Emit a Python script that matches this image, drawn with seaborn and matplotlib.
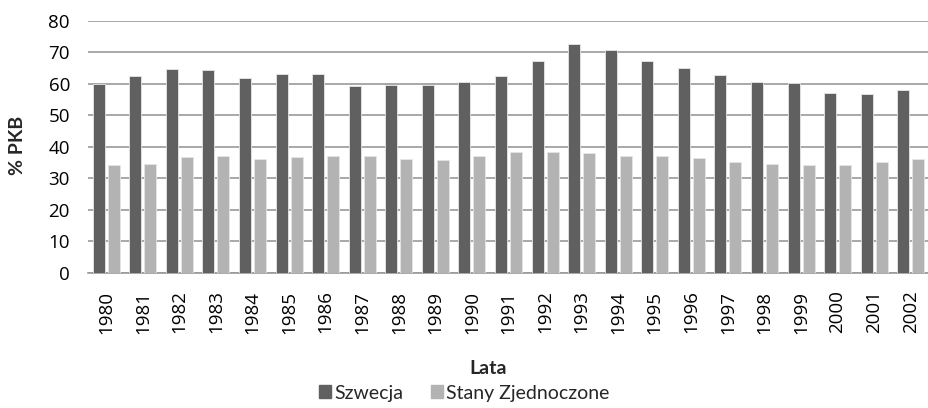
import matplotlib
matplotlib.use("Agg")
import matplotlib.pyplot as plt
import seaborn as sns
import pandas as pd

# wydatki publiczne jako % PKB
years = [str(y) for y in range(1980, 2003)]
szwecja = [60.0, 62.4, 64.7, 64.3, 61.9, 63.2, 63.2, 59.3, 59.8, 59.7, 60.5, 62.5,
           67.4, 72.8, 70.8, 67.4, 65.1, 62.8, 60.5, 60.2, 57.1, 56.8, 58.1]
usa = [34.2, 34.5, 36.8, 37.0, 36.0, 36.8, 37.2, 36.9, 36.0, 35.9, 37.0, 38.4,
       38.4, 37.9, 37.0, 36.9, 36.4, 35.2, 34.5, 34.2, 34.1, 35.1, 36.2]
series_names = ["Szwecja", "Stany Zjednoczone"]
colors = ["#606060", "#b3b3b3"]

df = pd.DataFrame({
    "rok": years * 2,
    "wartosc": szwecja + usa,
    "kraj": [series_names[0]] * len(years) + [series_names[1]] * len(years),
})

sns.set_style("white")
plt.rcParams["font.family"] = ["Open Sans", "DejaVu Sans"]
narrow = ["Lato", "DejaVu Sans"]

fig = plt.figure(figsize=(9.29, 4.08), dpi=100)
ax = fig.add_axes([88 / 929, 1 - 272.5 / 408, (929 - 88) / 929, 251.5 / 408])

sns.barplot(data=df, x="rok", y="wartosc", hue="kraj", hue_order=series_names,
            palette=colors, width=0.82, gap=0.2, ax=ax,
            edgecolor="#e6e6e6", linewidth=0.6, legend=False, zorder=3)

ax.set_ylim(0, 80)
ax.set_yticks(range(0, 81, 10))
ax.set_xlim(-0.5, len(years) - 0.5)
ax.yaxis.grid(True, color="#9a9a9a", linewidth=1.2, zorder=0)
ax.set_axisbelow(True)
for s in ["top", "right", "left"]:
    ax.spines[s].set_visible(False)
ax.spines["bottom"].set_color("#9a9a9a")
ax.spines["bottom"].set_linewidth(1.2)
ax.tick_params(axis="both", length=0, labelsize=13.5, colors="black")
ax.tick_params(axis="y", pad=13)
ax.tick_params(axis="x", pad=13)
plt.setp(ax.get_xticklabels(), rotation=90)

ax.set_xlabel("Lata", fontsize=14, fontweight="bold", family=narrow)
ax.xaxis.set_label_coords((488 - 88) / 841, (272.5 - 368) / 251.5)
ax.xaxis.label.set_va("center")
ax.set_ylabel("% PKB", fontsize=14, fontweight="bold", family=narrow)
ax.yaxis.set_label_coords((17.5 - 88) / 841, 0.505)
ax.yaxis.label.set_va("center")

handles = [plt.Rectangle((0, 0), 1, 1, color=c) for c in colors]
fig.legend(handles, series_names, loc="center", ncol=2, frameon=False,
           bbox_to_anchor=(0.5, 1 - 393 / 408), prop={"family": narrow, "size": 14},
           handlelength=0.6, handleheight=0.6, handletextpad=0.2, columnspacing=1.4,
           borderpad=0, borderaxespad=0)

fig.savefig("out.png", dpi=100)
